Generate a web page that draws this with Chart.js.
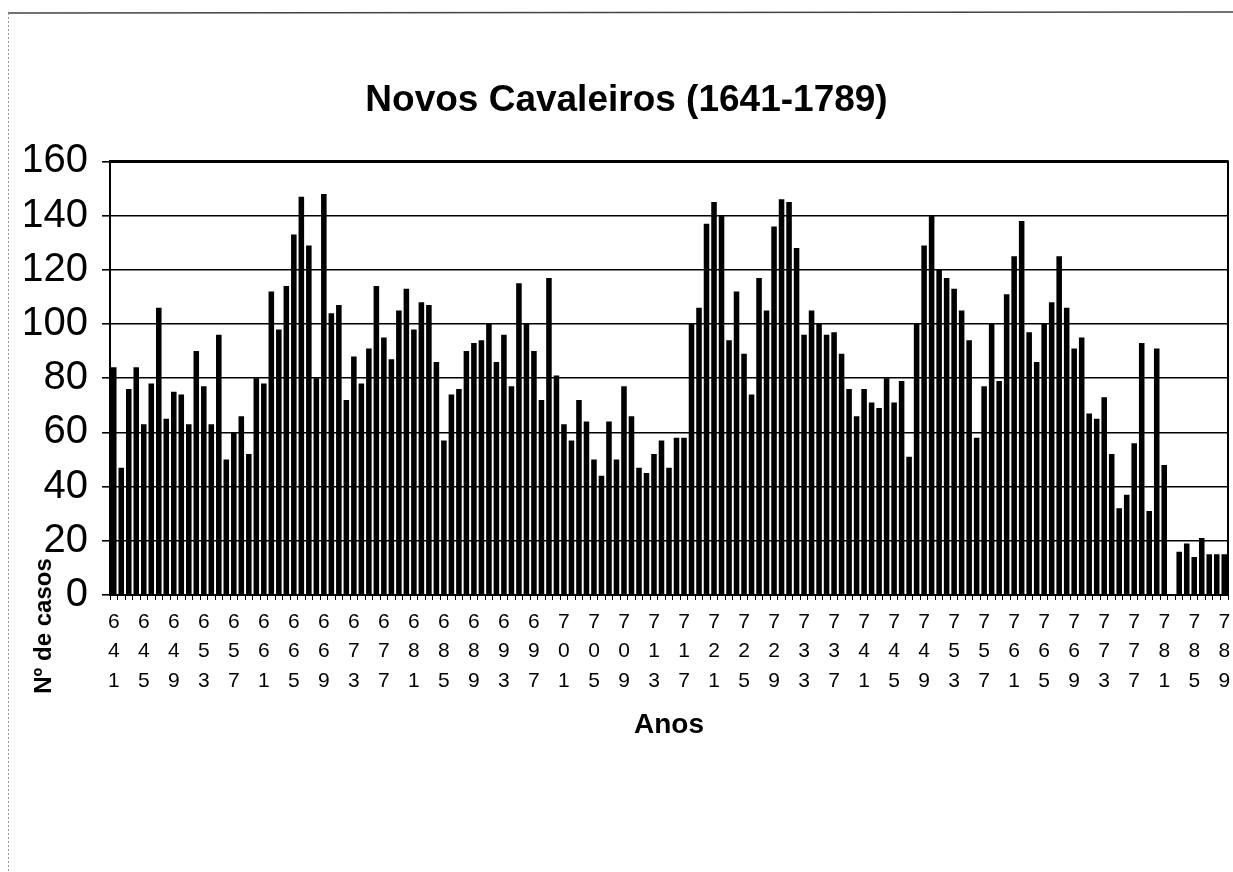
<!DOCTYPE html>
<html>
<head>
<meta charset="utf-8">
<script src="https://cdn.jsdelivr.net/npm/chart.js@4/dist/chart.umd.min.js"></script>
<style>
html,body{margin:0;padding:0;background:#fff;}
#wrap{position:relative;width:1233px;height:872px;}
canvas{display:block;}
</style>
</head>
<body>
<div id="wrap"><canvas id="c" width="1233" height="872"></canvas></div>
<script>
// ---- data ----
const years = [
  1641,1642,1643,1644,1645,1646,1647,1648,1649,1650,
  1651,1652,1653,1654,1655,1656,1657,1658,1659,1660,
  1661,1662,1663,1664,1665,1666,1667,1668,1669,1670,
  1671,1672,1673,1674,1675,1676,1677,1678,1679,1680,
  1681,1682,1683,1684,1685,1686,1687,1688,1689,1690,
  1691,1692,1693,1694,1695,1696,1697,1698,1699,1700,
  1701,1702,1703,1704,1705,1706,1707,1708,1709,1710,
  1711,1712,1713,1714,1715,1716,1717,1718,1719,1720,
  1721,1722,1723,1724,1725,1726,1727,1728,1729,1730,
  1731,1732,1733,1734,1735,1736,1737,1738,1739,1740,
  1741,1742,1743,1744,1745,1746,1747,1748,1749,1750,
  1751,1752,1753,1754,1755,1756,1757,1758,1759,1760,
  1761,1762,1763,1764,1765,1766,1767,1768,1769,1770,
  1771,1772,1773,1774,1775,1776,1777,1778,1779,1780,
  1781,1782,1783,1784,1785,1786,1787,1788,1789
];
const cases = [
  84,47,76,84,63,78,106,65,75,74,
  63,90,77,63,96,50,60,66,52,80,
  78,112,98,114,133,147,129,80,148,104,
  107,72,88,78,91,114,95,87,105,113,
  98,108,107,86,57,74,76,90,93,94,
  100,86,96,77,115,100,90,72,117,81,
  63,57,72,64,50,44,64,50,77,66,
  47,45,52,57,47,58,58,100,106,137,
  145,140,94,112,89,74,117,105,136,146,
  145,128,96,105,100,96,97,89,76,66,
  76,71,69,80,71,79,51,100,129,140,
  120,117,113,105,94,58,77,100,79,111,
  125,138,97,86,100,108,125,106,91,95,
  67,65,73,52,32,37,56,93,31,91,
  48,0,16,19,14,21,15,15,15
];
const tickLabels = [
  '641','645','649','653','657','661','665','669','673','677',
  '681','685','689','693','697','701','705','709','713','717',
  '721','725','729','733','737','741','745','749','753','757',
  '761','765','769','773','777','781','785','789'
];
const yMin = 0, yMax = 160, yStep = 20;
const chartTitle = 'Novos Cavaleiros (1641-1789)';
const xTitle = 'Anos';
const yTitle = 'N\u00BA de casos';

const FONT = "'Liberation Sans', Arial, Helvetica, sans-serif";

const decor = {
  id: 'decor',
  beforeDraw(chart) {
    const ctx = chart.ctx;
    ctx.save();
    ctx.fillStyle = '#fff';
    ctx.fillRect(0, 0, chart.width, chart.height);
    ctx.strokeStyle = '#444';
    ctx.lineWidth = 1.5;
    ctx.beginPath(); ctx.moveTo(8, 13); ctx.lineTo(1233, 12); ctx.stroke();
    ctx.strokeStyle = '#999';
    ctx.lineWidth = 1;
    ctx.setLineDash([2, 2]);
    ctx.beginPath(); ctx.moveTo(8.5, 13); ctx.lineTo(8.5, 872); ctx.stroke();
    ctx.restore();
  },
  afterDraw(chart) {
    const ctx = chart.ctx;
    const ca = chart.chartArea;
    ctx.save();
    ctx.strokeStyle = '#000';
    ctx.lineWidth = 2;
    ctx.strokeRect(ca.left, ca.top, ca.right - ca.left, ca.bottom - ca.top);
    ctx.lineWidth = 3;
    ctx.beginPath(); ctx.moveTo(ca.left, ca.top); ctx.lineTo(ca.right, ca.top); ctx.stroke();
    ctx.fillStyle = '#000';
    ctx.textAlign = 'center';
    ctx.textBaseline = 'middle';
    ctx.font = 'bold 28px ' + FONT;
    ctx.fillText(xTitle, (ca.left + ca.right) / 2, 725);
    ctx.translate(44, 626);
    ctx.rotate(-Math.PI / 2);
    ctx.font = 'bold 24px ' + FONT;
    ctx.fillText(yTitle, 0, 0);
    ctx.restore();
  }
};

new Chart(document.getElementById('c'), {
  type: 'bar',
  data: {
    labels: years.map(String),
    datasets: [{
      data: cases,
      backgroundColor: '#000',
      borderWidth: 0,
      barPercentage: 0.74,
      categoryPercentage: 1.0
    }]
  },
  options: {
    responsive: false,
    devicePixelRatio: 1,
    animation: false,
    layout: { padding: { left: 25, right: 5, top: 0, bottom: 0 } },
    plugins: {
      legend: { display: false },
      tooltip: { enabled: false },
      title: {
        display: true,
        text: chartTitle,
        color: '#000',
        font: { family: FONT, size: 37, weight: 'bold', lineHeight: 1.2 },
        padding: { top: 79, bottom: 38 }
      }
    },
    scales: {
      x: {
        afterFit: s => { s.height = 277; s.paddingRight = 0; },
        grid: { display: true, drawOnChartArea: false, tickLength: 5, color: '#000', lineWidth: 1, offset: true },
        border: { display: true, color: '#000', width: 2 },
        ticks: {
          autoSkip: false, maxRotation: 0, minRotation: 0,
          color: '#000', padding: 7,
          font: { family: FONT, size: 21, lineHeight: 1.405 },
          callback: function(value, index) {
            const s = String(years[index]).slice(1);
            return tickLabels.includes(s) ? s.split('') : '';
          }
        }
      },
      y: {
        min: yMin, max: yMax,
        afterFit: s => { s.width = 85; },
        grid: { color: '#000', lineWidth: 1.6, tickLength: 8, drawTicks: true },
        border: { display: true, color: '#000', width: 2 },
        ticks: {
          stepSize: yStep, color: '#000', padding: 14,
          font: { family: FONT, size: 40 }
        }
      }
    }
  },
  plugins: [decor]
});
</script>
</body>
</html>
